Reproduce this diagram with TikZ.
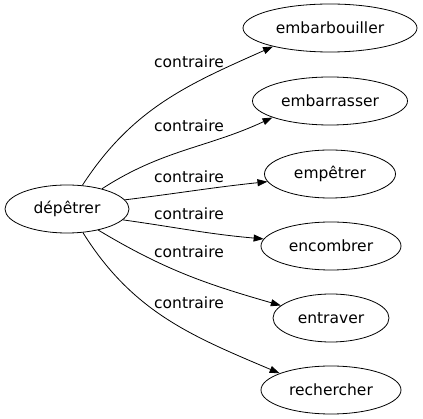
\documentclass[tikz,border=0pt]{standalone}
\usepackage{fontspec}
\setmainfont{DejaVu Sans}
\usetikzlibrary{shapes.geometric, arrows.meta}

\begin{document}
\begin{tikzpicture}[->, >={Triangle[length=10pt,width=7pt]}, line width=0.8pt, x=1pt, y=1pt,
	word/.style={ellipse, draw, minimum height=48pt, inner sep=0pt, font=\fontsize{15.5}{18}\selectfont},
	rel/.style={font=\fontsize{15.5}{18}\selectfont}]
	\useasboundingbox (0,0) rectangle (423,-419);
	\node[word, minimum width=124pt] (dep) at (67,-209) {dépêtrer};
	\node[word, minimum width=174pt] (emb) at (330,-28) {embarbouiller};
	\node[word, minimum width=155pt] (ema) at (330,-101) {embarrasser};
	\node[word, minimum width=131pt] (emp) at (330,-174) {empêtrer};
	\node[word, minimum width=140pt] (enc) at (331,-246) {encombrer};
	\node[word, minimum width=116pt] (ent) at (331,-318) {entraver};
	\node[word, minimum width=140pt] (rec) at (331,-390) {rechercher};

	\node[rel] (c1) at (189,-62) {contraire};
	\node[rel] (c2) at (189,-126) {contraire};
	\node[rel] (c3) at (189,-177) {contraire};
	\node[rel] (c4) at (189,-214) {contraire};
	\node[rel] (c5) at (189,-252) {contraire};
	\node[rel] (c6) at (189,-303) {contraire};

	\path	(dep.57) edge [out=57, in=204] (emb.198)
			(dep.30) edge [out=33, in=205] (ema.196)
			(dep.9) edge [out=7, in=186] (emp.187)
			(dep.-11) edge [out=-8, in=175] (enc.174)
			(dep.-34) edge [out=-31, in=164] (ent.166)
			(dep.-56) edge [out=-58, in=157] (rec.162)
	;
\end{tikzpicture}
\end{document}
